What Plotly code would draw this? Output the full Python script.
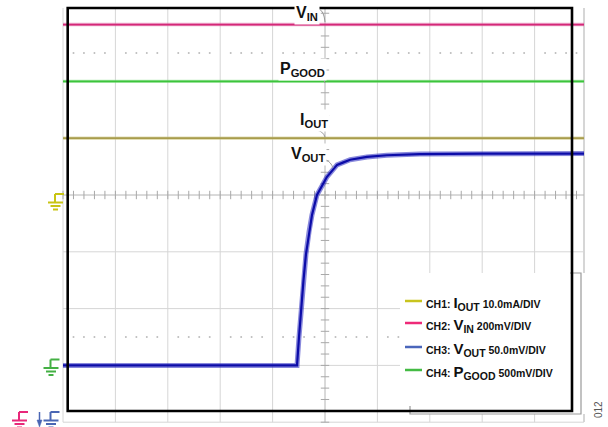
import numpy as np
import plotly.graph_objects as go

W, H = 608, 427

# ---------------- data (scope divisions: x = time div from centre, y = div from centre) ----
t_flat = [-5.0, 5.0]
vin = [3.0, 3.0]        # CH2 V_IN
pgood = [2.0, 2.0]      # CH4 P_GOOD
iout = [1.0, 1.0]       # CH1 I_OUT
t_vout = [-5.0, -0.534, -0.496, -0.458, -0.410, -0.363, -0.305, -0.248, -0.153, -0.057,
          0.038, 0.13, 0.23, 0.34, 0.48, 0.80, 1.18, 1.81, 3.0, 5.0]
vout = [-3.0, -3.0, -2.5, -2.0, -1.5, -1.04, -0.65, -0.35, 0.0, 0.16,
        0.32, 0.42, 0.53, 0.57, 0.62, 0.67, 0.70, 0.72, 0.73, 0.73]   # CH3 V_OUT

labels = ["V<sub>IN</sub>", "P<sub>GOOD</sub>", "I<sub>OUT</sub>", "V<sub>OUT</sub>"]
legend_ch = ["CH1:", "CH2:", "CH3:", "CH4:"]
legend_main = ["I", "V", "V", "P"]
legend_sub = ["OUT", "IN", "OUT", "GOOD"]
legend_scale = ["10.0mA/DIV", "200mV/DIV", "50.0mV/DIV", "500mV/DIV"]
legend_col = ["#c8c41e", "#ee2a78", "#4a66bb", "#44bb44"]

# ---------------- geometry ----------------
CX, CY = 325.0, 195.0      # screen centre in pixels
DX, DY = 52.4, 56.8        # pixels per division
PL, PR, PT, PB = 60.0, 584.0, 8.0, 427.0


def fx(px):
    return px / W


def fy(py):
    return 1 - py / H


def P(px, py):
    return f"{fx(px):.5f},{fy(py):.5f}"


xr = [(PL - CX) / DX, (PR - CX) / DX]
yr = [(CY - PB) / DY, (CY - PT) / DY]

fig = go.Figure()

# grid decoration: ticks on centre lines and dotted lines
minor_x = np.round(np.arange(-5, 5.001, 0.2), 2)
minor_y = np.round(np.arange(-4, 3.4, 0.2), 2)
dot_x = [v for v in minor_x if abs(v - round(v)) > 1e-6]
fig.add_trace(go.Scatter(x=minor_x, y=[0] * len(minor_x), mode="markers", hoverinfo="skip",
                         marker=dict(symbol="line-ns", size=6, line=dict(width=1, color="#a8a8a8"))))
fig.add_trace(go.Scatter(x=[0] * len(minor_y), y=minor_y, mode="markers", hoverinfo="skip",
                         marker=dict(symbol="line-ew", size=6, line=dict(width=1, color="#a8a8a8"))))
for yy in (2.5, -2.5):
    fig.add_trace(go.Scatter(x=dot_x, y=[yy] * len(dot_x), mode="markers", hoverinfo="skip",
                             marker=dict(symbol="circle", size=2, color="#bdbdbd")))


# traces (halo + core to mimic noise band)
def trace(x, y, core, halo, wc, wh, op):
    fig.add_trace(go.Scatter(x=x, y=y, mode="lines", hoverinfo="skip",
                             line=dict(color=halo, width=wh), opacity=op))
    fig.add_trace(go.Scatter(x=x, y=y, mode="lines", hoverinfo="skip",
                             line=dict(color=core, width=wc)))


trace(t_flat, iout, "#a89c4c", "#c8c070", 1.8, 3.5, 0.5)
trace(t_flat, vin, "#d42878", "#e060a0", 1.8, 3.5, 0.5)
trace(t_flat, pgood, "#3cc43c", "#70dd70", 1.8, 3.2, 0.5)
trace(t_vout, vout, "#0c0ca8", "#2a2ac0", 2.2, 5.0, 0.55)

shapes = []
grid_c = "#d6d6d6"
for k in range(-5, 6):
    if k == 0:
        continue
    shapes.append(dict(type="line", xref="x", yref="y", x0=k, x1=k, y0=-4, y1=yr[1],
                       line=dict(color=grid_c, width=1), layer="below"))
for k in range(-4, 4):
    if k == 0:
        continue
    shapes.append(dict(type="line", xref="x", yref="y", x0=-5, x1=xr[1], y0=k, y1=k,
                       line=dict(color=grid_c, width=1), layer="below"))
shapes.append(dict(type="line", xref="x", yref="y", x0=0, x1=0, y0=-4, y1=yr[1],
                   line=dict(color="#b4b4b4", width=1), layer="below"))
shapes.append(dict(type="line", xref="x", yref="y", x0=-5, x1=xr[1], y0=0, y1=0,
                   line=dict(color="#b4b4b4", width=1), layer="below"))
# right screen border
shapes.append(dict(type="line", xref="paper", yref="paper", x0=fx(584), x1=fx(584), y0=fy(8), y1=fy(422),
                   line=dict(color="#c8c8c8", width=1.5), layer="below"))

# legend box (white, shadow-ish gray edges)
shapes.append(dict(type="rect", xref="paper", yref="paper", x0=fx(400), x1=fx(586), y0=fy(273), y1=fy(414),
                   fillcolor="white", line=dict(width=0), layer="above"))
shapes.append(dict(type="path", xref="paper", yref="paper",
                   path=f"M{P(570,273)} L{P(581,273)} L{P(581,414)} L{P(410,414)} L{P(410,406)}",
                   line=dict(color="#9a9a9a", width=1.2), layer="above"))

# black frame
shapes.append(dict(type="rect", xref="paper", yref="paper", x0=fx(67.7), x1=fx(572), y0=fy(8), y1=fy(411),
                   line=dict(color="black", width=2.6), layer="above"))

# legend lines
rows = [301, 323, 347, 370]
for r, c in zip(rows, legend_col):
    shapes.append(dict(type="line", xref="paper", yref="paper", x0=fx(405), x1=fx(422), y0=fy(r), y1=fy(r),
                       line=dict(color=c, width=2.5), layer="above"))

# leader hooks
for path in ["M{a} Q{b} {c}".format(a=P(319, 9), b=P(324, 11), c=P(325, 22)),
             "M{a} Q{b} {c}".format(a=P(316, 74), b=P(323, 75), c=P(325, 83)),
             "M{a} Q{b} {c}".format(a=P(316, 130), b=P(323, 131), c=P(325, 137)),
             "M{a} Q{b} {c}".format(a=P(326, 160), b=P(331, 162), c=P(333, 168))]:
    shapes.append(dict(type="path", xref="paper", yref="paper", path=path,
                       line=dict(color="#999999", width=1), layer="above"))


# ground symbols
def ground(cx, ytop, color, arm=9):
    out = []
    segs = [((cx - 0.5, ytop), (cx + arm - 0.5, ytop)),
            ((cx - 0.5, ytop), (cx - 0.5, ytop + 8.5)),
            ((cx - 7.5, ytop + 8.5), (cx + 7.5, ytop + 8.5)),
            ((cx - 5, ytop + 12), (cx + 5, ytop + 12)),
            ((cx - 2.5, ytop + 15.5), (cx + 2.5, ytop + 15.5))]
    for (a, b) in segs:
        out.append(dict(type="line", xref="paper", yref="paper", x0=fx(a[0]), y0=fy(a[1]),
                        x1=fx(b[0]), y1=fy(b[1]), line=dict(color=color, width=2), layer="above"))
    return out


shapes += ground(55.5, 194, "#c8c414")
shapes += ground(51, 359.5, "#44b044")
shapes += ground(19.5, 412, "#e8287a")
shapes += ground(51, 412, "#4a66b4")
# blue offset arrow
shapes.append(dict(type="line", xref="paper", yref="paper", x0=fx(39.5), x1=fx(39.5), y0=fy(412), y1=fy(422),
                   line=dict(color="#4a66b4", width=1.5), layer="above"))
shapes.append(dict(type="path", xref="paper", yref="paper",
                   path=f"M{P(37,420)} L{P(42,420)} L{P(39.5,427)} Z",
                   fillcolor="#4a66b4", line=dict(color="#4a66b4", width=0.5), layer="above"))

FONT = "Liberation Sans, Arial, sans-serif"
ann = []
label_pos = [(294, 13), (278, 70), (298, 121), (289, 155)]
for t, (px, py) in zip(labels, label_pos):
    ann.append(dict(text=f"<b>{t}</b>", x=fx(px), y=fy(py), xref="paper", yref="paper",
                    xanchor="left", yanchor="middle", showarrow=False, bgcolor="white", borderpad=1,
                    font=dict(family=FONT, size=16, color="#111")))

for r, ch, m, s, sc in zip(rows, legend_ch, legend_main, legend_sub, legend_scale):
    txt = (f"<b>{ch} <span style='font-size:15px'>{m}<sub>{s}</sub></span> {sc}</b>")
    ann.append(dict(text=txt, x=fx(424), y=fy(r + 2), xref="paper", yref="paper",
                    xanchor="left", yanchor="middle", showarrow=False,
                    font=dict(family=FONT, size=10.5, color="#111")))

ann.append(dict(text="012", x=fx(598), y=fy(410), xref="paper", yref="paper", textangle=-90,
                xanchor="center", yanchor="middle", showarrow=False,
                font=dict(family=FONT, size=10, color="#555")))

fig.update_layout(
    width=W, height=H, margin=dict(l=0, r=0, t=0, b=0),
    paper_bgcolor="white", plot_bgcolor="white", showlegend=False,
    xaxis=dict(domain=[fx(PL), fx(PR)], range=xr, visible=False, fixedrange=True),
    yaxis=dict(domain=[fy(PB), fy(PT)], range=yr, visible=False, fixedrange=True),
    shapes=shapes, annotations=ann,
)

fig.write_html("out.html")
